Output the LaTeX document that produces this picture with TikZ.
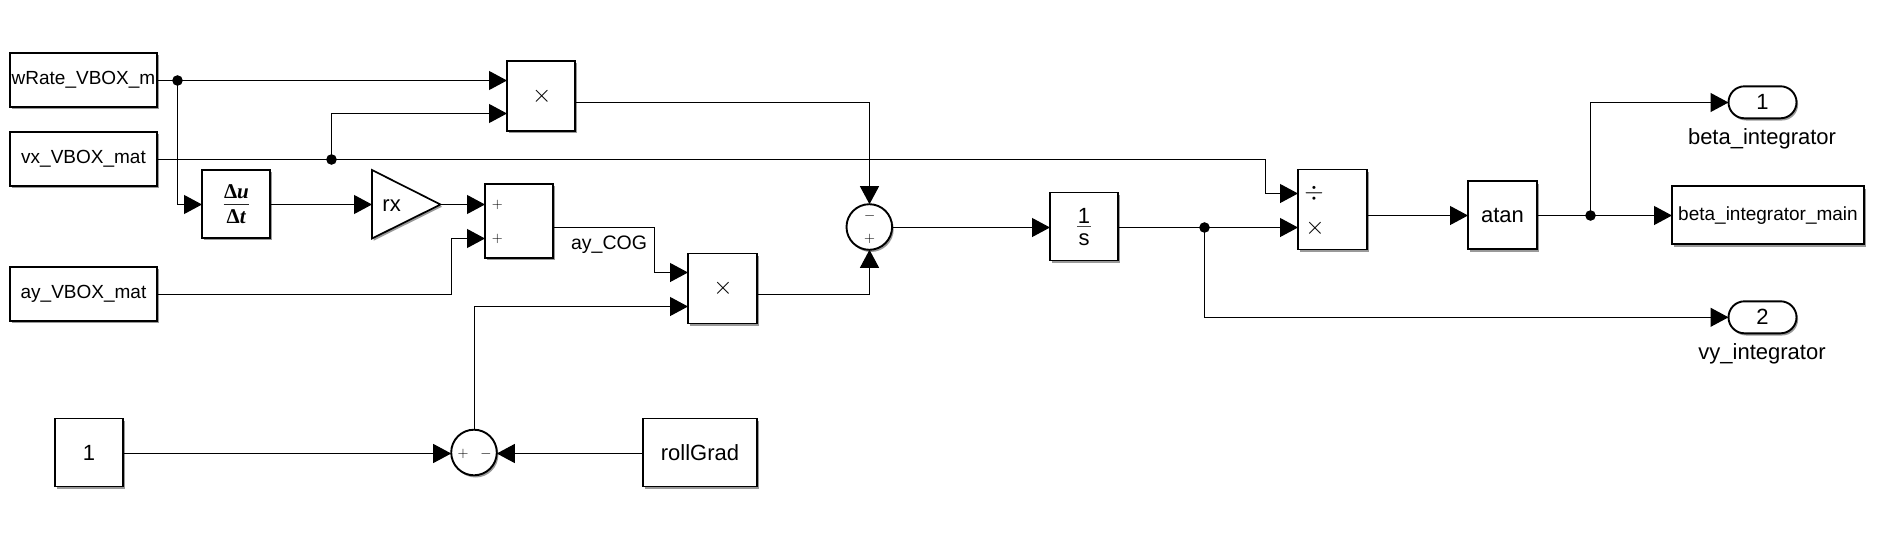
\documentclass[tikz,border=0pt]{standalone}
\usepackage{fontspec}
\setmainfont{Liberation Sans}
\newfontfamily\fracfont{Liberation Serif}
\usetikzlibrary{arrows.meta,shadows,shapes.misc}
\newcommand{\fsz}[1]{\fontsize{#1}{#1}\selectfont}
\tikzset{
  x=1pt,y=-1pt,
  softshadow/.style={drop shadow={shadow xshift=1.6pt,shadow yshift=-2.2pt,fill=black,opacity=.4}},
  block/.style={draw=black,line width=1.9pt,fill=white,softshadow,rectangle,inner sep=0pt,outer sep=0pt,font=\fsz{22}},
  srcblock/.style={block,font=\fsz{19}},
  sumring/.style={block,circle,minimum size=45.6pt},
  port/.style={draw=black,line width=1.9pt,fill=white,softshadow,rounded rectangle,inner sep=0pt,outer sep=0pt,minimum width=68pt,minimum height=32pt,font=\fsz{22}},
  wire/.style={line width=1.15pt,draw=black},
  sig/.style={wire,-{Triangle[length=18pt,width=19pt]}},
  dot/.style={circle,fill=black,inner sep=0pt,minimum size=10.6pt},
  lbl/.style={inner sep=0pt,font=\fsz{22}},
  sign/.style={inner sep=0pt,font=\fsz{15},text=black},
  prodsign/.style={inner sep=0pt,font=\fsz{31}},
  fracbar/.style={line width=1pt,draw=black!70},
}
\begin{document}
\begin{tikzpicture}
\useasboundingbox (0,0) rectangle (1877,541);
% sources
\node[srcblock,minimum width=147pt,minimum height=54pt] (wrate) at (83.5,80) {wRate\_VBOX\_m};
\node[srcblock,minimum width=147pt,minimum height=54pt] (vx) at (83.5,159) {vx\_VBOX\_mat};
\node[srcblock,minimum width=147pt,minimum height=54pt] (ay) at (83.5,294) {ay\_VBOX\_mat};
\node[block,minimum width=68pt,minimum height=68pt] (one) at (89,452.5) {1};
\node[block,minimum width=114pt,minimum height=68pt] (roll) at (700,452.5) {rollGrad};
% derivative
\node[block,minimum width=68pt,minimum height=68pt] (deriv) at (236,204) {};
\node[inner sep=0pt,font=\fsz{21}\fracfont\bfseries] (du) at (236.5,191.7) {Δ\textit{u}};
\node[inner sep=0pt,font=\fsz{21}\fracfont\bfseries] (dt) at (236.5,217) {Δ\textit{t}};
\draw[fracbar,draw=black!85] ([xshift=-12.5pt]deriv.center) -- ([xshift=12.5pt]deriv.center);
% gain
\coordinate (gainin) at (372,204.5);
\coordinate (gainout) at (440.5,204.5);
\draw[draw=black,line width=1.7pt,fill=white,softshadow] (372,170) -- (gainout) -- (372,238.5) -- cycle;
\node[lbl] (gain) at (391.6,205.5) {rx};
% sum 1
\node[block,minimum width=68pt,minimum height=74pt] (sumone) at (519,221) {};
\node[sign] (sp1) at (497.4,204.6) {$+$};
\node[sign] (sp2) at (497.4,238.8) {$+$};
% product 1
\node[block,minimum width=68pt,minimum height=70pt] (prodone) at (541,96) {};
\node[prodsign] (px1) at (541.7,96.7) {$\times$};
% product 2
\node[block,minimum width=69pt,minimum height=70pt] (prodtwo) at (722.5,288.5) {};
\node[prodsign] (px2) at (723,288.7) {$\times$};
\node[inner sep=0pt,font=\fsz{19.5}] (cog) at (609,245) {ay\_COG};
% sums
\node[sumring] (sumtwo) at (474,452.5) {};
\node[sign] (sp3) at (463,454) {$+$};
\node[sign] (sm3) at (486,454) {$-$};
\node[sumring] (sumthree) at (869.3,227) {};
\node[sign] (sm4) at (869.6,216) {$-$};
\node[sign] (sp4) at (869.6,239.3) {$+$};
% integrator
\node[block,minimum width=68pt,minimum height=68pt] (integ) at (1084,226.5) {};
\node[lbl] (inum) at (1084,216.3) {1};
\node[lbl] (iden) at (1084,240) {s};
\draw[fracbar] ([xshift=-6.7pt]integ.center) -- ([xshift=6.7pt]integ.center);
% divide
\node[block,minimum width=69pt,minimum height=80pt] (divide) at (1332.5,209.5) {};
\node[inner sep=0pt,font=\fsz{28}] (dv) at (1314,193.7) {$\div$};
\node[prodsign] (px3) at (1315,228.3) {$\times$};
% atan and sinks
\node[block,minimum width=69pt,minimum height=68pt] (atan) at (1502.5,215.3) {atan};
\node[srcblock,minimum width=192pt,minimum height=58pt] (main) at (1768,215.3) {beta\_integrator\_main};
\node[port] (outone) at (1762.5,102.3) {1};
\node[lbl] (labone) at (1762,138.8) {beta\_integrator};
\node[port] (outtwo) at (1762.5,317.3) {2};
\node[lbl] (labtwo) at (1762,353.8) {vy\_integrator};
% junctions
\node[dot] (jone) at (177.5,80.5) {};
\node[dot] (jtwo) at (331.5,159.5) {};
\node[dot] (jthree) at (1204.5,227.5) {};
\node[dot] (jfour) at (1590.5,215.5) {};
% ports
\coordinate (pa) at (prodone.west |- jone);
\coordinate (pb) at ([yshift=-17.5pt]prodone.west);
\coordinate (pout) at ([yshift=-6.5pt]prodone.east);
\coordinate (sa) at ([yshift=16.5pt]sumone.west);
\coordinate (sb) at ([yshift=-17.5pt]sumone.west);
\coordinate (sout) at ([yshift=-6.5pt]sumone.east);
\coordinate (qa) at ([yshift=16pt]prodtwo.west);
\coordinate (qb) at ([yshift=-18pt]prodtwo.west);
\coordinate (qout) at ([yshift=-6pt]prodtwo.east);
\coordinate (da) at ([yshift=16pt]divide.west);
\coordinate (db) at ([yshift=-18pt]divide.west);
\coordinate (dout) at ([yshift=-6pt]divide.east);
\coordinate (onep) at ([yshift=-1pt]one.east);
\coordinate (rollp) at ([yshift=-1pt]roll.west);
\coordinate (sumtwoa) at ([yshift=-1pt]sumtwo.west);
\coordinate (sumtwob) at ([yshift=-1pt]sumtwo.east);
\coordinate (integin) at ([yshift=-1pt]integ.west);
\coordinate (integout) at ([yshift=-1pt]integ.east);
\coordinate (sumthreeout) at ([yshift=-0.5pt]sumthree.east);
\coordinate (bendvx) at (1265.5,159.5);
\coordinate (bendcog) at (654.5,227.5);
\coordinate (bendprod) at (869.5,102.5);
\coordinate (bendq) at (869.5,294.5);
\coordinate (bendsum) at (451.5,294.5);
\coordinate (vxout) at (vx.east |- jtwo);
\coordinate (wrateout) at (wrate.east |- jone);
\coordinate (ayout) at (ay.east |- bendsum);
\coordinate (derivin) at (deriv.west |- gainin);
\coordinate (derivout) at (deriv.east |- gainin);
\coordinate (atanin) at (atan.west |- jfour);
\coordinate (atanout) at (atan.east |- jfour);
\coordinate (mainin) at (main.west |- jfour);
\coordinate (onein) at (outone.west |- bendprod);
\coordinate (twoin) at (outtwo.west);
% wires
\draw[sig] (wrateout) -- (pa);
\draw[sig] (jone.center) |- (derivin);
\draw[sig] (jtwo.center) |- (pb);
\draw[wire] (vxout) -- (bendvx);
\draw[sig] (bendvx) |- (da);
\draw[sig] (derivout) -- (gainin);
\draw[sig] (gainout) -- (sa);
\draw[sig] (ayout) -- (bendsum) |- (sb);
\draw[sig] (sout) -- (bendcog) |- (qa);
\draw[sig] (pout) -- (bendprod) -- (sumthree.north -| bendprod);
\draw[sig] (qout) -- (bendq) -- (sumthree.south -| bendq);
\draw[sig] (onep) -- (sumtwoa);
\draw[sig] (rollp) -- (sumtwob);
\draw[sig] (sumtwo.north -| 474.5,0) |- (qb);
\draw[sig] (sumthreeout) -- (integin);
\draw[wire] (integout) -- (jthree.center);
\draw[sig] (jthree.center) -- (db);
\draw[sig] (jthree.center) |- (twoin);
\draw[sig] (dout) -- (atanin);
\draw[wire] (atanout) -- (jfour.center);
\draw[sig] (jfour.center) -- (mainin);
\draw[sig] (jfour.center) |- (onein);
\end{tikzpicture}
\end{document}
